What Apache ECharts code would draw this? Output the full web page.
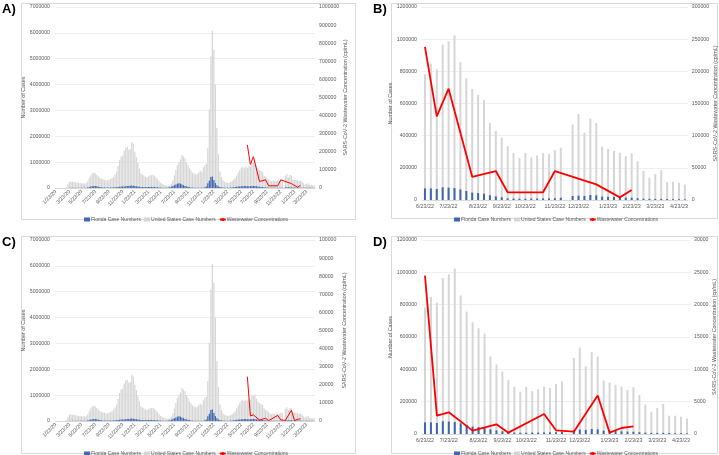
<!DOCTYPE html>
<html><head><meta charset="utf-8">
<script src="https://cdn.jsdelivr.net/npm/echarts@6/dist/echarts.min.js"></script>
<style>html,body{margin:0;padding:0;background:#fff}#c{width:719px;height:455px}</style>
</head><body><div id="c"></div>
<script>
// ---------- DATA (case numbers in thousands, weekly from 1/23/20) ----------
const UNIT = 1000;
const firstWeek = '1/23/20';
const zoomStart = '6/23/22';
const weekCount = 171;

const usCasesK = [
  0,0,0,0,0,0,5,40,150,240,
  250,240,230,225,215,200,195,185,175,170,
  180,250,380,480,560,590,560,500,440,390,
  360,340,320,300,300,320,340,380,430,520,
  640,850,1080,1220,1250,1450,1560,1600,1480,1500,
  1780,1720,1400,1200,980,760,560,520,480,440,
  430,450,480,500,510,470,410,340,260,200,
  150,120,100,90,95,110,160,300,480,700,
  880,1000,1100,1280,1220,1150,1000,880,760,680,
  600,560,520,540,600,680,620,800,880,950,
  1550,3030,5090,6080,5350,4000,2320,1310,640,420,
  300,240,210,200,200,220,260,310,380,480,
  600,700,780,810,760,820,
  782,848,813,966,987,1024,857,757,691,654,
  621,480,430,387,335,292,261,292,264,277,
  292,285,310,325,null,470,535,418,506,479,
  331,318,305,294,272,290,241,181,138,161,
  186,113,113,107,96
];
const flCasesK = [
  0,0,0,0,0,0,0,1,3,6,
  8,8,7,6,5,5,5,5,5,6,
  9,18,35,55,70,78,75,65,52,42,
  32,24,19,17,16,16,17,19,22,26,
  30,38,48,55,55,62,70,75,78,85,
  95,90,80,68,55,45,40,38,37,36,
  37,40,42,43,40,36,30,25,20,15,
  12,10,9,12,18,30,52,80,110,140,
  165,180,170,140,110,80,60,45,32,22,
  16,12,10,10,10,10,11,14,25,60,
  180,280,430,440,310,190,110,60,35,22,
  15,12,10,10,12,15,20,26,35,45,
  55,62,68,72,74,74,
  72,72,68,79,77,74,66,56,46,43,
  39,29,23,17,10,9,8,8,9,9,
  10,10,11,14,null,25,27,25,31,29,
  21,20,20,17,15,14,11,8,7,7,
  7,6,5,5,4
];

// wastewater concentrations (cp/mL)
const wwDatesAB = ['6/23/22','7/7/22','7/21/22','8/18/22','9/15/22','9/29/22','11/10/22','11/24/22','1/12/23','2/9/23','2/23/23'];
const wwValuesAB = [238000,130000,173000,36000,45000,12000,12000,45000,24300,4100,15500];
const wwDatesCD = ['6/23/22','7/7/22','7/21/22','8/18/22','9/15/22','9/29/22','11/10/22','11/24/22','12/15/22','1/12/23','1/26/23','2/9/23','2/23/23'];
const wwValuesCD = [24500,2850,3360,520,1500,210,3100,570,360,5950,210,930,1190];

// tick labels
const fullTickLabels = ['1/23/20','3/23/20','5/23/20','7/23/20','9/23/20','11/23/20','1/23/21','3/23/21','5/23/21','7/23/21','9/23/21','11/23/21','1/23/22','3/23/22','5/23/22','7/23/22','9/23/22','11/23/22','1/23/23','3/23/23'];
const zoomTickLabels = ['6/23/22','7/23/22','8/23/22','9/23/22','10/23/22','11/23/22','12/23/22','1/23/23','2/23/23','3/23/23','4/23/23'];

const names = {fl:'Florida Case Numbers', us:'United States Case Numbers', ww:'Wastewater Concentrations'};

// ---------- helpers ----------
function parse(s){const p=s.split('/').map(Number);return Date.UTC(2000+p[2],p[0]-1,p[1]);}
function fmt(t){const d=new Date(t);return (d.getUTCMonth()+1)+'/'+d.getUTCDate()+'/'+String(d.getUTCFullYear()).slice(2);}
const WEEK=7*864e5, t0=parse(firstWeek);
const weekIdx = s => Math.round((parse(s)-t0)/WEEK);
const fullCats = Array.from({length:weekCount},(_,i)=>fmt(t0+i*WEEK));
const z0 = weekIdx(zoomStart);
const zoomCats = fullCats.slice(z0);
const scale = a => a.map(v => v==null ? null : v*UNIT);
const usFull = scale(usCasesK), flFull = scale(flCasesK);
const usZoom = usFull.slice(z0), flZoom = flFull.slice(z0);
function wwSeries(dates, vals, offset, len){
  const arr = new Array(len).fill(null);
  dates.forEach((d,j)=>{arr[weekIdx(d)-offset]=vals[j];});
  return arr;
}
const wwA = wwSeries(wwDatesAB, wwValuesAB, 0, weekCount);
const wwB = wwSeries(wwDatesAB, wwValuesAB, z0, zoomCats.length);
const wwC = wwSeries(wwDatesCD, wwValuesCD, 0, weekCount);
const wwD = wwSeries(wwDatesCD, wwValuesCD, z0, zoomCats.length);
function labelMap(labels, offset){const m=new Map();labels.forEach(l=>m.set(weekIdx(l)-offset,l));return m;}
const fullMap = labelMap(fullTickLabels, 0), zoomMap = labelMap(zoomTickLabels, z0);

// ---------- styling ----------
const FONT = 'Liberation Sans, Arial, sans-serif';
const TXT = '#595959';
const BLUE = '#3f67b0', GRAY = '#d6d6d6', RED = '#ff0000';
const plain = v => String(v);

const grids = [
  {left:55, top:7, width:260, height:181},
  {left:422, top:7, width:268, height:193},
  {left:55, top:240, width:260, height:181},
  {left:422, top:240, width:268, height:194}
];
function xAx(g, cats, map, rotated){
  return {type:'category', gridIndex:g, data:cats,
    axisTick:{show:false}, axisLine:{lineStyle:{color:'#d9d9d9'}},
    axisLabel:{interval:(i)=>map.has(i), formatter:(v,i)=>map.get(i)||'', rotate:rotated?45:0,
      fontSize:rotated?5.2:5.4, color:TXT, fontFamily:FONT, margin:rotated?3:4, hideOverlap:false}};
}
function yLeft(g, max, step){
  return {type:'value', gridIndex:g, min:0, max:max, interval:step, name:'Number of Cases',
    nameLocation:'middle', nameRotate:90, nameGap:g%2?23:27,
    nameTextStyle:{fontSize:5.4, color:TXT, fontFamily:FONT},
    axisLabel:{fontSize:5.2, color:TXT, fontFamily:FONT, margin:5, formatter:plain},
    axisLine:{show:false}, axisTick:{show:false},
    splitLine:{lineStyle:{color:'#eeeeee', width:1}}};
}
function yRight(g, max, step){
  return {type:'value', gridIndex:g, position:'right', min:0, max:max, interval:step,
    name:'SARS-CoV-2 Wastewater Concentration (cp/mL)', nameLocation:'middle', nameRotate:90, nameGap:g%2?20:27,
    nameTextStyle:{fontSize:5.4, color:TXT, fontFamily:FONT},
    axisLabel:{fontSize:5.2, color:TXT, fontFamily:FONT, margin:4, formatter:plain},
    axisLine:{show:false}, axisTick:{show:false}, splitLine:{show:false}};
}
function panelSeries(xi, us, fl, ww, barW, lineW){
  return [
    {name:names.us, type:'bar', xAxisIndex:xi, yAxisIndex:xi*2, data:us, barWidth:barW, barGap:'-100%',
      itemStyle:{color:GRAY}, emphasis:{disabled:true}},
    {name:names.fl, type:'bar', xAxisIndex:xi, yAxisIndex:xi*2, data:fl, barWidth:barW, barGap:'-100%',
      itemStyle:{color:BLUE}, emphasis:{disabled:true}},
    {name:names.ww, type:'line', xAxisIndex:xi, yAxisIndex:xi*2+1, data:ww, connectNulls:true,
      symbol:'none', lineStyle:{color:RED, width:lineW}, itemStyle:{color:RED}}
  ];
}
function legend(left, top){
  return {left:left, top:top, itemWidth:6, itemHeight:4, itemGap:3, selectedMode:false,
    textStyle:{fontSize:5, color:TXT, fontFamily:FONT, padding:[0,0,0,-4]},
    data:[{name:names.fl, icon:'rect'},{name:names.us, icon:'rect'},{name:names.ww}]};
}
function frame(x,y,w,h){return {type:'rect', shape:{x:x+0.5,y:y+0.5,width:w,height:h}, style:{fill:null, stroke:'#d9d9d9', lineWidth:1}, silent:true};}
function letter(t, l, tp){return {text:t, left:l, top:tp, padding:0, textStyle:{fontSize:13, fontWeight:'bold', color:'#000', fontFamily:FONT}};}

const chart = echarts.init(document.getElementById('c'), null, {renderer:'canvas'});
chart.setOption({
  animation:false,
  backgroundColor:'#fff',
  title:[letter('A)',2,3), letter('B)',373,3), letter('C)',2,236), letter('D)',373,236)],
  graphic:[frame(21,3,334,216), frame(391,3,326,215), frame(21,236,334,217), frame(391,236,326,217)],
  grid:grids,
  xAxis:[xAx(0,fullCats,fullMap,true), xAx(1,zoomCats,zoomMap,false), xAx(2,fullCats,fullMap,true), xAx(3,zoomCats,zoomMap,false)],
  yAxis:[yLeft(0,7000000,1000000), yRight(0,1000000,100000),
         yLeft(1,1200000,200000), yRight(1,300000,50000),
         yLeft(2,7000000,1000000), yRight(2,100000,10000),
         yLeft(3,1200000,200000), yRight(3,30000,5000)],
  legend:[legend(79,212), legend(449,212), legend(79,446), legend(449,446)],
  series:[].concat(
    panelSeries(0, usFull, flFull, wwA, '80%', 1),
    panelSeries(1, usZoom, flZoom, wwB, 2, 1.8),
    panelSeries(2, usFull, flFull, wwC, '80%', 1),
    panelSeries(3, usZoom, flZoom, wwD, 2, 1.8))
});
</script></body></html>
